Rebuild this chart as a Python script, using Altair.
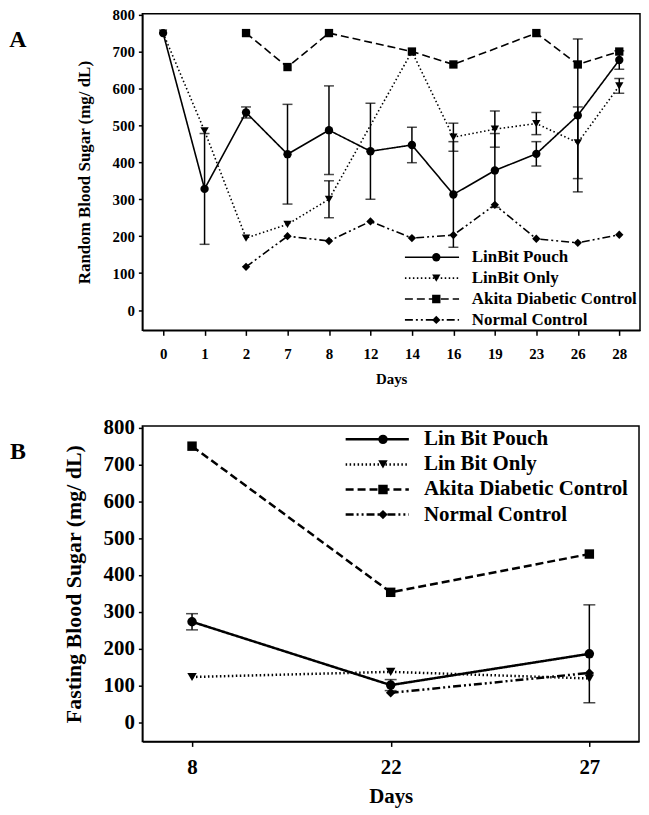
import altair as alt
import pandas as pd

FONT = "Liberation Serif"

# ---------------- Panel A data ----------------
A_DAYS = [0, 1, 2, 7, 8, 12, 14, 16, 19, 23, 26, 28]
A_NAMES = ["LinBit Pouch", "LinBit Only", "Akita Diabetic Control", "Normal Control"]
A_POUCH = [750, 328, 535, 422, 487, 430, 447, 313, 378, 423, 527, 677]
A_POUCH_ERR = [0, 150, 15, 135, 120, 130, 48, 143, 100, 33, 207, 25]
A_ONLY = [750, 485, 195, 232, 300, None, 700, 468, 490, 505, 453, 607]
A_ONLY_ERR = [0, 0, 0, 0, 50, 0, 0, 38, 49, 30, 97, 20]
A_AKITA = [None, None, 750, 658, 750, None, 700, 665, None, 750, 665, 700]
A_NORMAL = [None, None, 117, 200, 187, 240, 195, 203, 285, 193, 182, 204]

# ---------------- Panel B data ----------------
B_DAYS = [8, 22, 27]
B_NAMES = ["Lin Bit Pouch", "Lin Bit Only", "Akita Diabetic Control", "Normal Control"]
B_POUCH = [273, 101, 186]
B_POUCH_ERR = [22, 15, 133]
B_ONLY = [123, 137, 119]
B_ONLY_ERR = [0, 0, 0]
B_AKITA = [750, 353, 457]
B_NORMAL = [None, 80, 134]

Y_TICKS = [0, 100, 200, 300, 400, 500, 600, 700, 800]

SHAPES = ["circle", "triangle-down", "square", "diamond"]
DASHES = [[1, 0], [1.5, 2.5], [8, 4], [8, 3, 2, 3, 2, 3]]


def long_frame(days, names, series, errs):
    rows, erows = [], []
    for name, vals, err in zip(names, series, errs):
        for d, v, e in zip(days, vals, err):
            if v is None:
                continue
            rows.append({"day": d, "series": name, "value": v})
            if e:
                erows.append({"day": d, "series": name, "lo": v - e, "hi": v + e})
    return pd.DataFrame(rows), pd.DataFrame(erows)


def panel(days, names, series, errs, letter, ytitle, ydomain, width, height,
          pad, fs_tick, fs_xtitle, fs_ytitle, fs_leg, sw, msize, cap, leg_x,
          leg_y, row_pad, sym_w, lab_off, clip_h, ytitle_pad, xlab_pad,
          xtitle_pad, letter_fs):
    df, edf = long_frame(days, names, series, errs)
    x_axis = alt.Axis(title="Days", labelAngle=0, labelFont=FONT,
                      labelFontSize=fs_tick, labelFontWeight="bold",
                      labelColor="black", titleFont=FONT,
                      titleFontSize=fs_xtitle, titleFontWeight="bold",
                      titleColor="black", domain=True, domainColor="black",
                      domainWidth=1.5, ticks=True,
                      tickColor="black", tickSize=5, tickWidth=1.5,
                      labelPadding=xlab_pad, titlePadding=xtitle_pad, grid=False)
    y_axis = alt.Axis(title=ytitle, values=Y_TICKS, labelFont=FONT,
                      labelFontSize=fs_tick, labelFontWeight="bold",
                      labelColor="black", titleFont=FONT,
                      titleFontSize=fs_ytitle, titleFontWeight="bold",
                      titleColor="black", domain=True, domainColor="black",
                      domainWidth=1.5, ticks=True,
                      tickColor="black", tickSize=4, tickWidth=1.5,
                      labelPadding=4, labelOverlap=False,
                      titlePadding=ytitle_pad, grid=False)
    xs = alt.Scale(type="point", domain=days, padding=pad)
    ys = alt.Scale(domain=ydomain, nice=False, zero=False)
    x = alt.X("day:O", scale=xs, axis=x_axis)
    y = alt.Y("value:Q", scale=ys, axis=y_axis)

    common = dict(title=None, orient="none", padding=0, labelFont=FONT,
                  labelFontSize=fs_leg, labelFontWeight="bold",
                  labelColor="black", labelLimit=500, rowPadding=row_pad,
                  clipHeight=clip_h)
    line_size = sym_w - sw
    leg_lines = alt.Legend(legendX=leg_x, legendY=leg_y, symbolType="stroke",
                           symbolSize=line_size * line_size,
                           symbolStrokeWidth=sw, symbolStrokeColor="black",
                           labelOffset=lab_off, **common)
    leg_marks = alt.Legend(legendX=leg_x + sym_w / 2 - msize ** 0.5 / 2,
                           legendY=leg_y, symbolSize=msize,
                           symbolStrokeWidth=0, symbolFillColor="black",
                           labelExpr="' '", labelOffset=lab_off, **common)

    lines = alt.Chart(df).mark_line(color="black", strokeWidth=sw).encode(
        x=x, y=y,
        strokeDash=alt.StrokeDash("series:N",
                                  scale=alt.Scale(domain=names, range=DASHES),
                                  legend=leg_lines))
    rules = alt.Chart(edf).mark_rule(color="black", strokeWidth=1.5).encode(
        x=x, y=alt.Y("lo:Q", scale=ys, axis=y_axis), y2="hi:Q")
    cap_lo = alt.Chart(edf).mark_tick(color="black", orient="horizontal",
                                      size=cap, thickness=1.5).encode(
        x=x, y=alt.Y("lo:Q", scale=ys, axis=y_axis))
    cap_hi = alt.Chart(edf).mark_tick(color="black", orient="horizontal",
                                      size=cap, thickness=1.5).encode(
        x=x, y=alt.Y("hi:Q", scale=ys, axis=y_axis))
    points = alt.Chart(df).mark_point(filled=True, color="black", opacity=1,
                                      size=msize).encode(
        x=x, y=y,
        shape=alt.Shape("series:N", scale=alt.Scale(domain=names, range=SHAPES),
                        legend=leg_marks))
    label = alt.Chart(pd.DataFrame({"t": [letter]})).mark_text(
        font=FONT, fontSize=letter_fs, fontWeight="bold", color="black",
        align="center", baseline="middle").encode(
        text="t:N", x=alt.value(-125), y=alt.value(26))
    return alt.layer(lines, rules, cap_lo, cap_hi, points, label).resolve_scale(
        shape="independent", strokeDash="independent").properties(
        width=width, height=height)


chart_a = panel(A_DAYS, A_NAMES, [A_POUCH, A_ONLY, A_AKITA, A_NORMAL],
                [A_POUCH_ERR, A_ONLY_ERR, [0] * 12, [0] * 12], "A",
                "Random Blood Sugar (mg/ dL)", [-55, 802], 500, 318, 0.5,
                15, 15, 17, 17, 1.6, 70, 10, 263, 236, 3, 56, 12, 17,
                19, 11, 10, 24)
chart_b = panel(B_DAYS, B_NAMES, [B_POUCH, B_ONLY, B_AKITA, B_NORMAL],
                [B_POUCH_ERR, B_ONLY_ERR, [0] * 3, [0] * 3], "B",
                "Fasting Blood Sugar (mg/ dL)", [-52, 805], 499, 317, 0.25,
                21, 21, 22, 21, 2.5, 90, 12, 203, 3, 3.2, 66, 14, 21,
                18, 10, 8, 24)

chart = alt.vconcat(chart_a, chart_b, spacing=29).properties(
    padding={"top": -4, "left": 0, "right": 0, "bottom": 0}).configure(
    background="white").configure_view(stroke="black", strokeWidth=1.5)

chart.save("out.html", embed_options={"renderer": "svg", "actions": False})
